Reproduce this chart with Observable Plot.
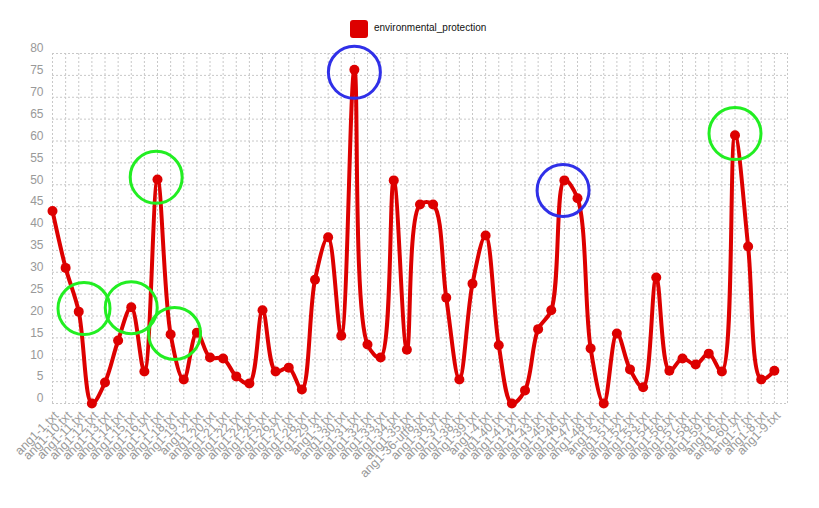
<!DOCTYPE html>
<html>
<head>
<meta charset="utf-8">
<script src="https://cdn.jsdelivr.net/npm/d3@7"></script>
<script src="https://cdn.jsdelivr.net/npm/@observablehq/plot@0.6"></script>
<style>
  body { margin: 0; background: #fff; }
  #wrap { position: relative; width: 819px; height: 508px; }
  #legend { position: relative; height: 40px; width: 819px; }
  #legend .sw { position: absolute; left: 350px; top: 20px; width: 18px; height: 18px; background: #dd0000; border-radius: 3px; }
  #legend .lb { position: absolute; left: 374px; top: 22px; font: 10px "Liberation Sans", Arial, sans-serif; color: #111; }
  svg { display: block; }
</style>
</head>
<body>
<div id="wrap">
  <div id="legend"><div class="sw"></div><div class="lb">environmental_protection</div></div>
  <div id="chart"></div>
</div>
<script>
const files = [
  "ang1-1.txt","ang1-10.txt","ang1-11.txt","ang1-12.txt","ang1-13.txt","ang1-14.txt","ang1-15.txt",
  "ang1-16.txt","ang1-17.txt","ang1-18.txt","ang1-19.txt","ang1-2.txt","ang1-20.txt","ang1-21.txt",
  "ang1-22.txt","ang1-24.txt","ang1-25.txt","ang1-26.txt","ang1-27.txt","ang1-28.txt","ang1-29.txt",
  "ang1-3.txt","ang1-30.txt","ang1-31.txt","ang1-32.txt","ang1-33.txt","ang1-34.txt","ang1-35.txt",
  "ang1-36-utf8.txt","ang1-36.txt","ang1-37.txt","ang1-38.txt","ang1-39.txt","ang1-4.txt","ang1-40.txt",
  "ang1-41.txt","ang1-42.txt","ang1-43.txt","ang1-45.txt","ang1-46.txt","ang1-47.txt","ang1-48.txt",
  "ang1-5.txt","ang1-51.txt","ang1-52.txt","ang1-53.txt","ang1-54.txt","ang1-56.txt","ang1-57.txt",
  "ang1-58.txt","ang1-59.txt","ang1-6.txt","ang1-60.txt","ang1-7.txt","ang1-8.txt","ang1-9.txt"
];
const environmental_protection = [
  44, 31, 21, 0, 4.8, 14.4, 22, 7.3, 51.2, 15.8, 5.5, 16.2, 10.5, 10.3, 6.2, 4.6, 21.3, 7.3, 8.2, 3.2,
  28.3, 38, 15.5, 76.3, 13.5, 10.5, 51, 12.3, 45.5, 45.5, 24.2, 5.5, 27.4, 38.4, 13.3, 0, 3, 17, 21.3,
  51, 46.9, 12.6, 0, 16, 7.8, 3.7, 28.8, 7.5, 10.3, 8.9, 11.4, 7.3, 61.3, 35.9, 5.5, 7.5
];
const yTicks = [0,5,10,15,20,25,30,35,40,45,50,55,60,65,70,75,80];
// annotation circles (position in category index / value units)
const greenCircles = [
  {i: 2.4, v: 21.7}, {i: 6.0, v: 21.9}, {i: 7.9, v: 51.7}, {i: 9.3, v: 16.0}, {i: 52.0, v: 61.7}
];
const blueCircles = [
  {i: 23.0, v: 75.7}, {i: 38.9, v: 48.7}
];

const data = files.map((f, i) => ({i, f, v: environmental_protection[i]}));
const idx = d3.range(files.length);

const chart = Plot.plot({
  width: 819,
  height: 468,
  marginLeft: 52,
  marginRight: 32,
  marginTop: 13,
  marginBottom: 105,
  style: {fontFamily: "'Liberation Sans', Arial, sans-serif", fontSize: "12px", color: "#999", background: "#fff"},
  x: {domain: [0, files.length], axis: null},
  y: {domain: [0, 80], axis: null},
  marks: [
    Plot.ruleY(yTicks, {stroke: "#c8c8c8", strokeDasharray: "2,2"}),
    Plot.ruleX(d3.range(files.length + 1), {stroke: "#c8c8c8", strokeDasharray: "2,2"}),
    Plot.axisY(yTicks, {tickSize: 0, tickPadding: 9, dy: -5, fill: "#999", fontSize: 12, label: null}),
    Plot.axisX(idx, {tickSize: 0, tickPadding: 10, dx: 4, tickRotate: -45, tickFormat: i => files[i], fill: "#999", fontSize: 12.5, label: null}),
    Plot.line(data, {x: "i", y: "v", curve: "catmull-rom", stroke: "#dd0000", strokeWidth: 4}),
    Plot.dot(data, {x: "i", y: "v", r: 5, fill: "#dd0000"}),
    Plot.dot(greenCircles, {x: "i", y: "v", r: 26, stroke: "#22ee22", strokeWidth: 3, fill: "none"}),
    Plot.dot(blueCircles, {x: "i", y: "v", r: 26, stroke: "#3030e8", strokeWidth: 3, fill: "none"})
  ]
});
document.getElementById("chart").appendChild(chart);
</script>
</body>
</html>
